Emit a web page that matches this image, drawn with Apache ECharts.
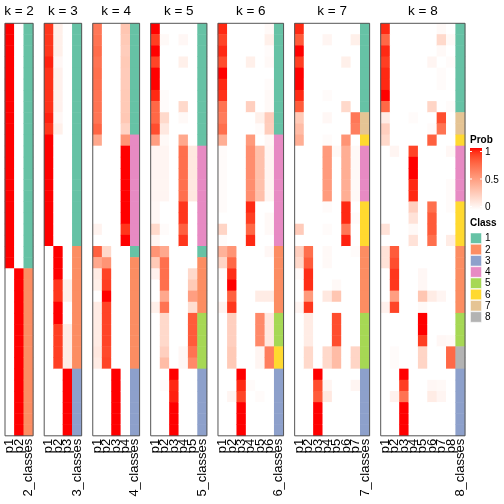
<!DOCTYPE html>
<html><head><meta charset="utf-8">
<script src="https://cdn.jsdelivr.net/npm/echarts@6/dist/echarts.min.js"></script>
<style>html,body{margin:0;padding:0;background:#fff}#c{width:504px;height:504px}</style>
</head><body><div id="c"></div>
<script>
// ---------------- data ----------------
const kValues = [2, 3, 4, 5, 6, 7, 8];
const classColors = ['#66C2A5', '#FC8D62', '#8DA0CB', '#E78AC3', '#A6D854', '#FFD92F', '#E5C494', '#B3B3B3'];
const classLabels = ['1', '2', '3', '4', '5', '6', '7', '8'];
const probTicks = ['1', '0.5', '0'];

const k2_p1 = [1,1,1,1,1,1,1,1,1,1, 1,1,1,1,1,1,1,1,1,1, 1,1,0,0,0,0,0,0,0,0, 0,0,0,0,0,0,0];
const k2_p2 = [0,0,0,0,0,0,0,0,0,0, 0,0,0,0,0,0,0,0,0,0, 0,0,1,1,1,1,1,1,1,1, 1,1,1,1,1,1,1];
const k2_class = [1,1,1,1,1,1,1,1,1,1, 1,1,1,1,1,1,1,1,1,1, 1,1,2,2,2,2,2,2,2,2, 2,2,2,2,2,2,2];

const k3_p1 = [0.92,0.92,0.92,0.96,0.93,0.93,0.93,0.93,0.96,0.92, 1,1,1,1,1,1,1,1,1,1, 0,0,0,0,0,0,0,0,0,0, 0,0,0,0,0,0,0];
const k3_p2 = [0.08,0.08,0.08,0.04,0.07,0.07,0.07,0.07,0.04,0.08, 0,0,0,0,0,0,0,0,0,0, 1,1,1,0.92,0.92,1,1,0.9,0.9,0.9, 0.9,0,0,0,0,0,0];
const k3_p3 = [0,0,0,0,0,0,0,0,0,0, 0,0,0,0,0,0,0,0,0,0, 0,0,0,0.08,0.08,0,0,0.1,0.1,0.1, 0.1,1,1,1,1,1,1];
const k3_class = [1,1,1,1,1,1,1,1,1,1, 1,1,1,1,1,1,1,1,1,1, 2,2,2,2,2,2,2,2,2,2, 2,3,3,3,3,3,3];

const k4_p1 = [0.68,0.7,0.73,0.7,0.72,0.71,0.7,0.7,0.69,0.76, 0.45,0,0,0,0,0,0,0,0.06,0, 0.78,0.45,0.1,0.08,0,0.1,0.1,0.1,0.1,0.12, 0.1,0,0,0,0,0,0];
const k4_p2 = [0,0,0,0,0,0,0,0,0,0, 0,0,0,0,0,0,0,0,0,0, 0.2,0.55,0.88,0.9,1,0.88,0.88,0.88,0.88,0.86, 0.88,0,0,0,0,0,0];
const k4_p3 = [0,0,0,0,0,0,0,0,0,0, 0,0,0,0,0,0,0,0,0,0, 0,0,0,0,0,0,0,0,0,0, 0,1,1,1,1,1,1];
const k4_p4 = [0.3,0.28,0.26,0.28,0.27,0.27,0.28,0.28,0.29,0.23, 0.55,1,1,1,1,1,1,1,0.92,1, 0,0,0,0,0,0,0,0,0,0, 0,0,0,0,0,0,0];
const k4_class = [1,1,1,1,1,1,1,1,1,1, 4,4,4,4,4,4,4,4,4,4, 1,2,2,2,2,2,2,2,2,2, 2,3,3,3,3,3,3];

const k5_p1 = [1,0.9,1,0.88,1,1,0.95,0.75,0.75,0.85, 0.5,0.05,0.05,0.05,0.05,0.05,0.04,0.04,0.2,0.05, 0.55,0.28,0.07,0,0,0.08,0,0,0,0, 0,0,0,0,0,0,0];
const k5_p2 = [0,0.03,0,0,0,0,0.02,0.02,0.2,0.12, 0.03,0.05,0.05,0.05,0.05,0.05,0,0,0.02,0, 0.45,0.72,0.72,0.72,0.45,0.7,0.2,0.2,0.2,0.25, 0.35,0,0.02,0,0,0,0];
const k5_p3 = [0,0,0,0,0,0,0,0,0,0, 0,0,0,0,0,0,0,0,0,0, 0,0,0,0,0,0,0,0,0,0, 0,1,0.95,0.96,1,1,1];
const k5_p4 = [0,0.04,0,0.08,0,0,0,0.2,0.03,0, 0.45,0.72,0.72,0.72,0.72,0.72,0.92,0.92,0.78,0.92, 0,0,0,0,0,0,0,0,0,0.04, 0.04,0,0,0,0,0,0];
const k5_p5 = [0,0,0,0,0,0,0,0,0,0, 0,0.12,0.12,0.12,0.12,0.12,0,0,0,0, 0,0,0.2,0.28,0.5,0.18,0.8,0.8,0.8,0.7, 0.6,0,0,0,0,0,0];
const k5_class = [1,1,1,1,1,1,1,1,1,1, 1,4,4,4,4,4,4,4,4,4, 1,2,2,2,2,2,5,5,5,5, 5,3,3,3,3,3,3];

const k6_p1 = [0.95,0.88,0.95,0.85,1,0.95,0.93,0.7,0.66,0.72, 0.42,0.02,0.02,0.02,0.02,0.02,0.02,0,0.22,0.02, 0.4,0.22,0.02,0,0,0.06,0,0,0,0, 0,0,0,0,0,0,0];
const k6_p2 = [0,0,0,0,0,0,0,0,0,0, 0,0,0,0,0,0,0,0,0,0, 0.55,0.75,0.94,1,0.78,0.92,0.25,0.25,0.25,0.28, 0.28,0,0,0.05,0,0,0];
const k6_p3 = [0,0,0,0,0,0,0,0,0,0, 0,0,0,0,0,0,0,0,0,0, 0,0,0,0,0,0,0,0,0,0, 0,1,0.95,0.88,1,1,1];
const k6_p4 = [0,0,0,0.08,0,0,0,0.25,0,0, 0.52,0.58,0.58,0.58,0.58,0.58,0.95,0.9,0.75,0.95, 0,0,0,0,0,0,0,0,0,0, 0,0,0.02,0,0,0,0];
const k6_p5 = [0,0,0,0,0,0,0,0,0.08,0.02, 0,0.33,0.33,0.33,0.33,0.33,0,0,0,0, 0,0,0,0,0.1,0,0.6,0.6,0.6,0.05, 0.05,0,0,0.02,0,0,0];
const k6_p6 = [0.03,0.08,0.02,0.03,0,0.02,0.03,0.03,0.27,0.26, 0.04,0.05,0.05,0.05,0.05,0.05,0,0.03,0.03,0, 0.04,0,0,0,0.1,0,0.12,0.12,0.12,0.65, 0.65,0,0,0,0,0,0];
const k6_class = [1,1,1,1,1,1,1,1,1,1, 4,4,4,4,4,4,4,4,4,4, 2,2,2,2,2,2,5,5,5,6, 6,3,3,3,3,3,3];

const k7_p1 = [0.95,0.8,1,0.9,1,1,0.95,0.8,0.28,0.35, 0.42,0,0,0,0,0,0,0,0.27,0, 0.25,0.2,0.02,0,0,0.05,0,0,0,0, 0,0,0,0,0,0,0];
const k7_p2 = [0,0,0,0,0,0,0,0,0,0, 0,0,0,0,0,0,0,0,0,0, 0.72,0.8,0.94,0.94,0.52,0.92,0.1,0.1,0.1,0.2, 0.2,0,0,0,0,0,0];
const k7_p3 = [0,0,0,0,0,0,0,0,0,0, 0,0,0,0,0,0,0,0,0,0, 0,0,0,0,0,0,0,0,0,0, 0,1,0.85,0.8,1,1,1];
const k7_p4 = [0,0.05,0,0,0,0,0.02,0,0.04,0, 0.02,0.52,0.52,0.52,0.52,0.52,0.02,0,0.02,0, 0.03,0.03,0,0,0.12,0,0,0,0,0.2, 0.2,0,0.05,0.12,0,0,0];
const k7_p5 = [0,0,0,0,0,0,0,0,0,0, 0,0.03,0,0,0,0,0,0,0,0, 0,0,0,0.03,0.3,0,0.85,0.85,0.85,0.35, 0.35,0,0,0,0,0,0];
const k7_p6 = [0,0,0,0.08,0,0,0,0.2,0,0, 0.55,0.42,0.42,0.42,0.42,0.42,0.95,0.95,0.68,0.96, 0,0,0,0,0,0,0,0,0,0, 0,0,0,0,0,0,0];
const k7_p7 = [0,0.08,0,0,0,0,0,0,0.68,0.65, 0,0.03,0.03,0.03,0.03,0.03,0,0.02,0,0, 0.02,0,0,0,0,0,0,0,0,0.22, 0.22,0,0.05,0,0,0,0];
const k7_class = [1,1,1,1,1,1,1,1,7,7, 6,4,4,4,4,4,6,6,6,6, 2,2,2,2,2,2,5,5,5,5, 5,3,3,3,3,3,3];

const k8_p1 = [0.95,0.75,0.95,0.9,0.95,0.95,1,0.75,0.1,0.25, 0.2,0,0,0,0,0,0,0,0.15,0, 0.15,0.15,0,0,0,0.07,0,0,0,0, 0,0,0,0,0,0,0];
const k8_p2 = [0,0,0,0,0,0,0,0,0,0, 0,0.05,0,0,0,0,0,0,0,0, 0.8,0.85,0.92,0.92,0.5,0.88,0,0,0,0.02, 0.02,0,0,0.07,0,0,0];
const k8_p3 = [0,0,0,0,0,0,0,0,0,0, 0,0,0,0,0,0,0,0,0,0, 0,0,0,0,0,0,0,0,0,0, 0,1,0.9,0.7,1,1,1];
const k8_p4 = [0,0,0,0,0,0,0,0,0.02,0, 0,0.88,1,1,0.95,0.95,0.25,0.15,0.03,0.15, 0,0,0,0,0,0,0,0,0,0, 0,0,0,0,0,0,0];
const k8_p5 = [0,0,0,0,0,0,0,0,0,0, 0,0,0,0,0,0,0,0,0,0, 0,0,0.04,0.04,0.3,0.03,1,1,0.9,0.22, 0.22,0,0,0,0,0,0];
const k8_p6 = [0,0,0,0.05,0,0,0,0.22,0,0.02, 0.78,0,0,0,0,0,0.72,0.8,0.8,0.72, 0,0,0,0,0.1,0,0,0,0,0, 0,0,0.04,0.1,0,0,0];
const k8_p7 = [0.03,0.2,0.03,0,0.02,0.02,0,0,0.85,0.7, 0,0,0,0,0,0,0,0,0,0, 0,0,0,0,0.05,0,0,0,0.04,0, 0,0,0.03,0.05,0,0,0];
const k8_p8 = [0,0.03,0,0.02,0,0,0,0.02,0,0, 0,0.04,0,0,0.02,0.02,0.02,0,0,0.1, 0,0,0,0,0,0,0,0,0.03,0.75, 0.75,0,0,0,0,0,0];
const k8_class = [1,1,1,1,1,1,1,1,7,7, 6,4,4,4,4,4,6,6,6,6, 2,2,2,2,2,2,5,5,5,8, 8,3,3,3,3,3,3];

const panelProbs = [
  [k2_p1, k2_p2],
  [k3_p1, k3_p2, k3_p3],
  [k4_p1, k4_p2, k4_p3, k4_p4],
  [k5_p1, k5_p2, k5_p3, k5_p4, k5_p5],
  [k6_p1, k6_p2, k6_p3, k6_p4, k6_p5, k6_p6],
  [k7_p1, k7_p2, k7_p3, k7_p4, k7_p5, k7_p6, k7_p7],
  [k8_p1, k8_p2, k8_p3, k8_p4, k8_p5, k8_p6, k8_p7, k8_p8]
];
const panelClasses = [k2_class, k3_class, k4_class, k5_class, k6_class, k7_class, k8_class];

// ---------------- colour helpers (LAB ramp white -> red) ----------------
function s2l(c){c/=255;return c<=0.04045?c/12.92:Math.pow((c+0.055)/1.055,2.4);}
function l2s(c){c=c<=0.0031308?12.92*c:1.055*Math.pow(c,1/2.4)-0.055;return Math.round(Math.max(0,Math.min(1,c))*255);}
function rgb2lab(rgb){
  const R=s2l(rgb[0]),G=s2l(rgb[1]),B=s2l(rgb[2]);
  const X=(0.4124*R+0.3576*G+0.1805*B)/0.95047, Y=0.2126*R+0.7152*G+0.0722*B, Z=(0.0193*R+0.1192*G+0.9505*B)/1.08883;
  const f=t=>t>0.008856?Math.cbrt(t):7.787*t+16/116;
  return [116*f(Y)-16, 500*(f(X)-f(Y)), 200*(f(Y)-f(Z))];
}
function lab2rgb(lab){
  const fy=(lab[0]+16)/116, fx=fy+lab[1]/500, fz=fy-lab[2]/200;
  const fi=t=>t>0.206893?t*t*t:(t-16/116)/7.787;
  const X=fi(fx)*0.95047, Y=fi(fy), Z=fi(fz)*1.08883;
  const R=3.2406*X-1.5372*Y-0.4986*Z, G=-0.9689*X+1.8758*Y+0.0415*Z, B=0.0557*X-0.2040*Y+1.0570*Z;
  return 'rgb('+l2s(R)+','+l2s(G)+','+l2s(B)+')';
}
const labW = rgb2lab([255,255,255]), labR = rgb2lab([255,0,0]);
const rampColors = [];
for (let i = 0; i <= 20; i++) {
  const t = i / 20;
  rampColors.push(lab2rgb([labW[0]+(labR[0]-labW[0])*t, labW[1]+(labR[1]-labW[1])*t, labW[2]+(labR[2]-labW[2])*t]));
}

// ---------------- layout ----------------
const FONT = '"Liberation Sans", Arial, Helvetica, sans-serif';
const TOP = 23.3, HEIGHT = 412.5, COL_W = 9.37, GAP = 11.08, LEFT0 = 5;
const rowIds = k2_p1.map((_, i) => 'r' + i);

const grids = [], xAxes = [], yAxes = [], series = [], graphics = [];
const probIdx = [], classIdx = [];
let left = LEFT0;
kValues.forEach((k, i) => {
  const probs = panelProbs[i];
  const ncol = probs.length + 1;
  const width = ncol * COL_W;
  grids.push({ left: left, top: TOP, width: width, height: HEIGHT, containLabel: false });
  const cats = probs.map((_, j) => 'p' + (j + 1)).concat([k + '_classes']);
  xAxes.push({
    type: 'category', gridIndex: i, data: cats, position: 'bottom',
    axisLine: { show: false }, axisTick: { show: false }, splitLine: { show: false },
    axisLabel: { rotate: 90, interval: 0, fontSize: 13, color: '#000', margin: 3, fontFamily: FONT }
  });
  yAxes.push({ type: 'category', gridIndex: i, data: rowIds, inverse: true, show: false });
  const pdata = [];
  probs.forEach((col, j) => col.forEach((v, r) => pdata.push([j, r, v])));
  probIdx.push(series.length);
  series.push({ type: 'heatmap', xAxisIndex: i, yAxisIndex: i, data: pdata, emphasis: { disabled: true }, itemStyle: { borderWidth: 0 } });
  const cdata = panelClasses[i].map((c, r) => [probs.length, r, c]);
  classIdx.push(series.length);
  series.push({ type: 'heatmap', xAxisIndex: i, yAxisIndex: i, data: cdata, emphasis: { disabled: true }, itemStyle: { borderWidth: 0 } });
  // panel title and border
  graphics.push({ type: 'text', x: left + width / 2, y: 11.5, z: 100,
    style: { text: 'k = ' + k, fill: '#000', font: '13.5px ' + FONT, textAlign: 'center', textVerticalAlign: 'middle' } });
  graphics.push({ type: 'rect', z: 100, shape: { x: left, y: TOP, width: width, height: HEIGHT },
    style: { fill: 'none', stroke: '#555', lineWidth: 1 } });
  left += width + GAP;
});

// ---------------- legend ----------------
const LX = 470;
graphics.push({ type: 'text', x: LX, y: 140, z: 100, style: { text: 'Prob', fill: '#000', font: 'bold 10px ' + FONT, textVerticalAlign: 'middle' } });
const gradStops = rampColors.map((c, i) => ({ offset: 1 - i / 20, color: c }));
graphics.push({ type: 'rect', z: 100, shape: { x: LX, y: 148, width: 12, height: 62 },
  style: { fill: new echarts.graphic.LinearGradient(0, 0, 0, 1, gradStops.slice().reverse()) } });
const tickY = [151.5, 179, 206.5];
probTicks.forEach((t, i) => {
  graphics.push({ type: 'text', x: 485, y: tickY[i] + 1, z: 100, style: { text: t, fill: '#000', font: '10px ' + FONT, textVerticalAlign: 'middle' } });
  graphics.push({ type: 'line', z: 101, shape: { x1: LX, y1: tickY[i], x2: LX + 2, y2: tickY[i] }, style: { stroke: '#fff', lineWidth: 1 } });
  graphics.push({ type: 'line', z: 101, shape: { x1: LX + 10, y1: tickY[i], x2: LX + 12, y2: tickY[i] }, style: { stroke: '#fff', lineWidth: 1 } });
});
graphics.push({ type: 'text', x: LX, y: 223, z: 100, style: { text: 'Class', fill: '#000', font: 'bold 10px ' + FONT, textVerticalAlign: 'middle' } });
classLabels.forEach((lab, i) => {
  const y = 233 + i * 11.25;
  graphics.push({ type: 'rect', z: 100, shape: { x: LX + 0.5, y: y, width: 11, height: 10.5 }, style: { fill: classColors[i], stroke: '#fff', lineWidth: 0.5 } });
  graphics.push({ type: 'text', x: 485, y: y + 5.5, z: 100, style: { text: lab, fill: '#000', font: '10px ' + FONT, textVerticalAlign: 'middle' } });
});

const chart = echarts.init(document.getElementById('c'), null, { renderer: 'canvas' });
chart.setOption({
  animation: false,
  backgroundColor: '#fff',
  grid: grids, xAxis: xAxes, yAxis: yAxes, series: series,
  visualMap: [
    { type: 'continuous', show: false, min: 0, max: 1, seriesIndex: probIdx, inRange: { color: rampColors } },
    { type: 'piecewise', show: false, seriesIndex: classIdx,
      pieces: classColors.map((c, j) => ({ value: j + 1, color: c })) }
  ],
  graphic: graphics
});
</script></body></html>
